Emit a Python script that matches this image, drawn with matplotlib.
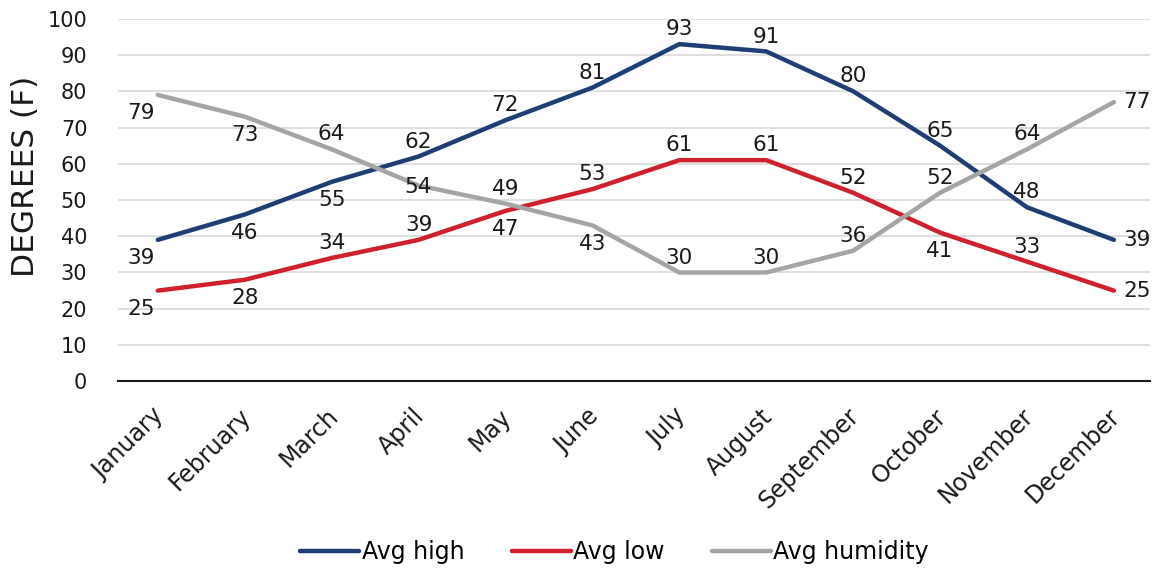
import numpy as np
import matplotlib.pyplot as plt
from matplotlib.transforms import ScaledTranslation

months = ['January', 'February', 'March', 'April', 'May', 'June', 'July',
          'August', 'September', 'October', 'November', 'December']
avg_high = [39, 46, 55, 62, 72, 81, 93, 91, 80, 65, 48, 39]
avg_low = [25, 28, 34, 39, 47, 53, 61, 61, 52, 41, 33, 25]
avg_humidity = [79, 73, 64, 54, 49, 43, 30, 30, 36, 52, 64, 77]

# label placement per point: a = above, b = below, m = on the line, r = right
pos_high = 'bbbaaaaaaaar'
pos_low = 'bbaabaaaabar'
pos_hum = 'bbamabaaaaar'

plt.rcParams['font.family'] = ['DejaVu Sans']

fig = plt.figure(figsize=(11.55, 5.69), dpi=100)
ax = fig.add_axes([0.102, 0.330, 0.894, 0.637])

x = np.arange(len(months))
series = [
    ('Avg high', avg_high, '#1F3F74', pos_high),
    ('Avg low', avg_low, '#D0202E', pos_low),
    ('Avg humidity', avg_humidity, '#A5A5A5', pos_hum),
]

for name, vals, col, pos in series:
    ax.plot(x, vals, color=col, lw=3.2, label=name,
            solid_capstyle='round', solid_joinstyle='round', zorder=3)
    for xi, v, p in zip(x, vals, pos):
        if p == 'a':
            off, ha, va = (0, 3.5), 'center', 'bottom'
        elif p == 'b':
            off, ha, va = (0, -6), 'center', 'top'
        elif p == 'm':
            off, ha, va = (0, -1), 'center', 'center'
        else:
            off, ha, va = (7, 0), 'left', 'center'
        if xi == 0:
            off = (off[0] - 12, off[1])
        ax.annotate(str(v), (xi, v), xytext=off, textcoords='offset points',
                    ha=ha, va=va, fontsize=15.5, color='#1a1a1a', zorder=4)

ax.set_ylim(0, 100)
ax.set_xlim(-0.46, 11.42)
ax.set_yticks(range(0, 101, 10))
ax.set_xticks(x)
ax.set_xticklabels(months, rotation=45, ha='right', rotation_mode='anchor')
ax.tick_params(axis='both', length=0, labelsize=15, colors='#1a1a1a')
ax.tick_params(axis='x', pad=10, labelsize=17)
ax.tick_params(axis='y', pad=22)
shift = ScaledTranslation(-6 / 100, -9 / 100, fig.dpi_scale_trans)
for lab in ax.get_xticklabels():
    lab.set_transform(lab.get_transform() + shift)
ax.grid(axis='y', color='#D9D9D9', lw=1.2)
ax.set_axisbelow(True)
for s in ['top', 'right', 'left']:
    ax.spines[s].set_visible(False)
ax.spines['bottom'].set_color('#1a1a1a')
ax.spines['bottom'].set_linewidth(1.5)
ax.set_ylabel('DEGREES (F)', fontsize=22.5, color='#1a1a1a')
ax.yaxis.set_label_coords(-0.0755, 0.564)

fig.legend(loc='center', bbox_to_anchor=(0.532, 0.03), ncol=3, frameon=False,
           fontsize=17, handlelength=2.5, handletextpad=0.1, columnspacing=2.0)

fig.savefig('out.png', dpi=100)
